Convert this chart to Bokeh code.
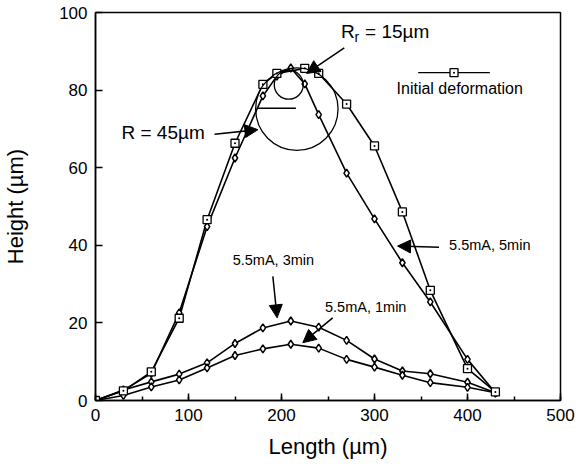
from bokeh.plotting import figure
from bokeh.models import Range1d, SingleIntervalTicker, Label, Arrow, NormalHead
from bokeh.embed import file_html
from bokeh.resources import INLINE

# ---- data ----
length_init = [0, 30, 60, 90, 120, 150, 180, 195, 225, 240, 270, 300, 330, 360, 400, 430]
height_init = [0, 2.5, 7.4, 21.2, 46.6, 66.3, 81.5, 84.3, 85.6, 84.3, 76.4, 65.6, 48.6, 28.4, 8.2, 2.2]

length_5min = [0, 30, 60, 90, 120, 150, 180, 195, 210, 225, 240, 270, 300, 330, 360, 400, 430]
height_5min = [0, 2.6, 7.0, 22.6, 44.8, 62.5, 78.5, 83.6, 85.7, 81.6, 73.7, 58.6, 46.8, 35.5, 25.4, 10.6, 2.0]

length_low = [0, 30, 60, 90, 120, 150, 180, 210, 240, 270, 300, 330, 360, 400, 430]
height_3min = [0, 2.7, 4.8, 6.8, 9.7, 14.7, 18.7, 20.5, 18.9, 15.5, 10.7, 7.6, 6.9, 4.7, 2.0]
height_1min = [0, 1.3, 3.5, 5.3, 8.4, 11.6, 13.3, 14.5, 13.5, 10.6, 8.6, 6.5, 4.6, 3.4, 2.0]

# circles of curvature (centre x, centre y, diameter along x, along y in data units)
circle_x = [216.5, 207.8]
circle_y = [75.1, 81.4]
circle_w = [88.6, 31.1]
circle_h = [21.3, 7.5]
radius_line_x = [173.8, 215.5]
radius_line_y = [75.3, 75.3]

# legend sample
legend_line_x = [347, 424]
legend_line_y = [84.5, 84.5]
legend_mark_x = [385.5]
legend_mark_y = [84.5]

# texts: (text, x, y, size, align)
texts = [
    ("R = 45\u00b5m", 27.9, 69.0, "19px", "left"),
    ("5.5mA, 3min", 191.3, 36.2, "14.5px", "center"),
    ("5.5mA, 1min", 246.8, 24.1, "14.5px", "left"),
    ("5.5mA, 5min", 380.2, 40.2, "14.5px", "left"),
    ("Initial deformation", 323.7, 80.3, "16px", "left"),
]
rr_x, rr_y = 264.0, 95.2

# arrows: x_start, y_start, x_end, y_end
arrows = [
    (128.0, 68.6, 174.6, 69.8),
    (267.5, 90.9, 227.0, 84.3),
    (190.7, 32.0, 195.3, 21.3),
    (255.0, 21.3, 222.9, 14.9),
    (369.4, 39.5, 324.8, 39.8),
]

FONT = "Liberation Sans"

p = figure(frame_width=465, frame_height=388, output_backend="svg", toolbar_location=None,
           x_range=Range1d(0, 500), y_range=Range1d(0, 100),
           min_border_left=91, min_border_right=20, min_border_top=12, min_border_bottom=69)
p.xgrid.visible = False
p.ygrid.visible = False
p.outline_line_color = "black"
p.outline_line_width = 1.5
p.background_fill_color = "white"
p.border_fill_color = "white"

p.xaxis.ticker = SingleIntervalTicker(interval=100, num_minor_ticks=2)
p.yaxis.ticker = SingleIntervalTicker(interval=20, num_minor_ticks=0)
for ax in (p.xaxis[0], p.yaxis[0]):
    ax.major_tick_in = 7
    ax.major_tick_out = 0
    ax.minor_tick_in = 4
    ax.minor_tick_out = 0
    ax.axis_line_width = 1.5
    ax.axis_line_color = "black"
    ax.major_tick_line_width = 1.5
    ax.minor_tick_line_width = 1.5
    ax.major_label_text_font = FONT
    ax.major_label_text_font_size = "17px"
    ax.major_label_text_color = "black"
    ax.axis_label_text_font = FONT
    ax.axis_label_text_font_size = "22px"
    ax.axis_label_text_font_style = "normal"
    ax.axis_label_text_color = "black"
    ax.major_label_standoff = 8
p.yaxis.minor_tick_line_color = None
p.xaxis.axis_label = "Length (\u00b5m)"
p.yaxis.axis_label = "Height (\u00b5m)"
p.xaxis.axis_label_standoff = 10
p.yaxis.axis_label_standoff = 28

# curves
p.line(length_init, height_init, line_color="black", line_width=1.6)
p.line(length_5min, height_5min, line_color="black", line_width=1.6)
p.line(length_low, height_3min, line_color="black", line_width=1.6)
p.line(length_low, height_1min, line_color="black", line_width=1.6)

p.scatter(length_5min, height_5min, marker="diamond", size=8, fill_color="white", line_color="black", line_width=1.5)
p.scatter(length_low, height_3min, marker="diamond", size=8, fill_color="white", line_color="black", line_width=1.5)
p.scatter(length_low, height_1min, marker="diamond", size=8, fill_color="white", line_color="black", line_width=1.5)
p.scatter(length_init, height_init, marker="square_dot", size=8, fill_color="white", line_color="black", line_width=1.3)

# curvature circles
p.ellipse(x=circle_x, y=circle_y, width=circle_w, height=circle_h, fill_color=None,
          line_color="black", line_width=1.3)
p.line(radius_line_x, radius_line_y, line_color="black", line_width=1.5)

# legend sample
p.line(legend_line_x, legend_line_y, line_color="black", line_width=1.3)
p.scatter(legend_mark_x, legend_mark_y, marker="square_dot", size=8, fill_color="white", line_color="black", line_width=1.3)

for t, x, y, s, a in texts:
    p.add_layout(Label(x=x, y=y, text=t, text_font=FONT, text_font_size=s, text_align=a,
                       text_baseline="middle", text_color="black"))

# R_r = 15um with subscript
p.add_layout(Label(x=rr_x, y=rr_y, text="R", text_font=FONT, text_font_size="19px",
                   text_baseline="middle", text_color="black"))
p.add_layout(Label(x=rr_x, y=rr_y, x_offset=13.5, y_offset=-6, text="r", text_font=FONT,
                   text_font_size="14px", text_baseline="middle", text_color="black"))
p.add_layout(Label(x=rr_x, y=rr_y, x_offset=24, text="= 15\u00b5m", text_font=FONT,
                   text_font_size="19px", text_baseline="middle", text_color="black"))

for x0, y0, x1, y1 in arrows:
    p.add_layout(Arrow(x_start=x0, y_start=y0, x_end=x1, y_end=y1, line_width=1.5, line_color="black",
                       end=NormalHead(size=13, fill_color="black", line_color="black", line_width=1)))

open("out.html", "w").write(file_html(p, INLINE))
